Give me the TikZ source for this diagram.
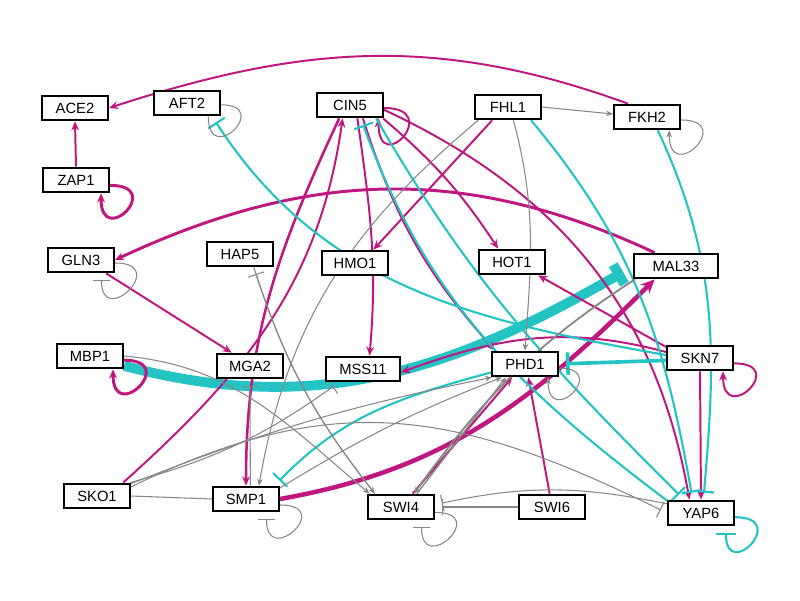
\documentclass[tikz,border=0pt]{standalone}
\usepackage{fontspec}
\setmainfont{Liberation Sans}
\usetikzlibrary{arrows.meta,backgrounds}
\definecolor{actmag}{RGB}{192,22,128}
\definecolor{inhcyan}{RGB}{36,196,196}
\definecolor{linkgray}{RGB}{135,135,135}
\begin{document}
\begin{tikzpicture}[x=0.025cm,y=0.025cm,
  gene/.style={draw, fill=white, line width=1.3pt, minimum width=1.65cm, minimum height=0.62cm, inner sep=0pt, font=\fontsize{10.5}{12}\selectfont},
  act/.style={draw=actmag, line width=1.4pt, -{Stealth[length=6.5pt,width=5.5pt]}},
  inh/.style={draw=inhcyan, line width=1.5pt, -{Bar[width=14pt]}, shorten >=5pt},
  gact/.style={draw=linkgray, line width=0.75pt, -{Stealth[length=5pt,width=4pt]}},
  ginh/.style={draw=linkgray, line width=0.75pt, -{Bar[width=12pt]}, shorten >=5pt},
  glink/.style={draw=linkgray, line width=0.75pt}]
\useasboundingbox (0,0) rectangle (800,600);

\node[gene] (ace2) at (75,492) {ACE2};
\node[gene] (aft2) at (187,497) {AFT2};
\node[gene] (zap1) at (76,420) {ZAP1};
\node[gene] (cin5) at (350,495) {CIN5};
\node[gene] (fhl1) at (508,493) {FHL1};
\node[gene] (fkh2) at (647,483) {FKH2};
\node[gene] (gln3) at (81,340) {GLN3};
\node[gene] (hap5) at (240,346) {HAP5};
\node[gene] (hmo1) at (355,337) {HMO1};
\node[gene] (hot1) at (512,338) {HOT1};
\node[gene, minimum width=2.08cm] (mal33) at (676,334) {MAL33};
\node[gene] (mbp1) at (90,244) {MBP1};
\node[gene] (mga2) at (250,234) {MGA2};
\node[gene, minimum width=1.85cm] (mss11) at (363,231) {MSS11};
\node[gene] (phd1) at (525,236) {PHD1};
\node[gene] (skn7) at (700,242) {SKN7};
\node[gene] (sko1) at (97,104) {SKO1};
\node[gene] (smp1) at (246,101) {SMP1};
\node[gene] (swi4) at (401,93) {SWI4};
\node[gene] (swi6) at (552,93) {SWI6};
\node[gene] (yap6) at (701,87) {YAP6};

\begin{scope}[on background layer]
\path[draw,inh,line width=7pt,-{Bar[width=16pt]},shorten >=0.3cm] (mbp1.-16) to[out=-15,in=-150] (mal33.west);

\path[draw,act] (zap1.north) -- (ace2.south);
\path[draw,act,line width=2.1pt] (zap1.-9) to[out=0,in=-90,distance=1.4cm] (zap1.-28);
\path[draw,act] (fkh2.145) to[out=160,in=18] (ace2.east);
\path[draw,act] (cin5.-5) to[out=0,in=-90,distance=1.5cm] (cin5.-25);
\path[draw,act,line width=2.1pt] (mal33.148) to[out=155,in=25] (gln3.east);
\path[draw,act] (gln3.-28) -- (mga2.144);
\path[draw,act,line width=2.1pt] (mbp1.-7) to[out=0,in=-90,distance=1.4cm] (mbp1.-30);
\path[draw,act,line width=1.8pt] (cin5.-129) to[out=-115,in=90] (smp1.north);
\path[draw,act] (sko1.27) to[out=42,in=-98] (cin5.-119);
\path[draw,act] (cin5.-61) to[out=-82,in=85] (mss11.64);
\path[draw,act] (fhl1.-140) -- (hmo1.36);
\path[draw,act] (cin5.-22) to[bend left=8] (hot1.136);
\path[draw,act] (cin5.-8) to[out=-25,in=100] (yap6.131);
\path[draw,act] (cin5.-46) to[bend right=12] (phd1.156);
\path[draw,act] (skn7.162) -- (hot1.-27);
\path[draw,act] (skn7.170) to[out=165,in=20] (mss11.-5);
\path[draw,act] (skn7.-9) to[out=0,in=-90,distance=1.4cm] (skn7.-30);
\path[draw,act] (skn7.south) -- (yap6.north);
\path[draw,act,line width=3.2pt,-{Stealth[length=10pt,width=9pt]}] (smp1.east) to[out=10,in=-135] (mal33.-148);
\path[draw,act] (swi4.49) -- (phd1.-134);
\path[draw,act] (swi6.100) -- (phd1.-76);

\path[draw,inh] (skn7.175) to[out=170,in=-57] (aft2.-28);
\path[draw,inh,line width=2.6pt,-{Bar[width=16pt]}] (skn7.-176) -- (phd1.east);
\path[draw,inh] (phd1.-166) to[out=195,in=46] (smp1.25);
\path[draw,inh] (yap6.-7) to[out=0,in=-90,distance=1.4cm] (yap6.-28);
\path[draw,inh] (fkh2.-51) to[out=-65,in=85] (yap6.80);
\path[draw,inh] (fhl1.-30) to[out=-50,in=100] (yap6.122);
\path[draw,inh] (cin5.-27) to[out=-60,in=135] (yap6.142);
\path[draw,inh] (yap6.160) to[out=143,in=-70] (cin5.-51);

\path[draw,gact] (fhl1.east) -- (fkh2.175);
\path[draw,gact] (fkh2.-5) to[out=0,in=-90,distance=1.4cm] (fkh2.-31);
\path[draw,glink] (aft2.-3) to[out=0,in=-90,distance=1.3cm] (aft2.-32);
\path[draw,ginh] (gln3.-5) to[out=0,in=-90,distance=1.4cm] (gln3.-33);
\path[draw,ginh] (smp1.-10) to[out=0,in=-90,distance=1.4cm] (smp1.-33);
\path[draw,ginh] (swi4.-9) to[out=0,in=-90,distance=1.4cm] (swi4.-33);
\path[draw,gact] (phd1.-7) to[out=0,in=-90,distance=1.3cm] (phd1.-30);
\path[draw,gact] (fhl1.-68) to[out=-75,in=86] (phd1.north);
\path[draw,gact] (fhl1.-156) to[out=-140,in=80] (smp1.46);
\path[draw,ginh] (smp1.72) -- (mga2.south);
\path[draw,gact] (hap5.-44) to[bend right=10] (swi4.153);
\path[draw,ginh] (swi4.153) to[bend left=10] (hap5.-44);
\path[draw,gact] (mbp1.east) to[out=-5,in=140] (swi4.157);
\path[draw,glink] (sko1.east) -- (smp1.west);
\path[draw,gact] (sko1.20) to[bend left=5] (phd1.-158);
\path[draw,gact] (smp1.18) to[bend left=5] (phd1.-150);
\path[draw,ginh] (sko1.15) to[out=26,in=154,looseness=1.1] (yap6.west);
\path[draw,ginh] (sko1.22) to[bend right=10] (mss11.-151);
\path[draw,gact,line width=1.3pt] (mal33.-162) to[out=-147,in=54] (swi4.46);
\path[draw,gact,line width=1pt] (swi4.40) -- (phd1.-145);
\path[draw,ginh] (swi6.west) -- (swi4.east);
\path[draw,ginh] (yap6.165) to[bend right=12] (swi4.4);
\end{scope}
\end{tikzpicture}
\end{document}
